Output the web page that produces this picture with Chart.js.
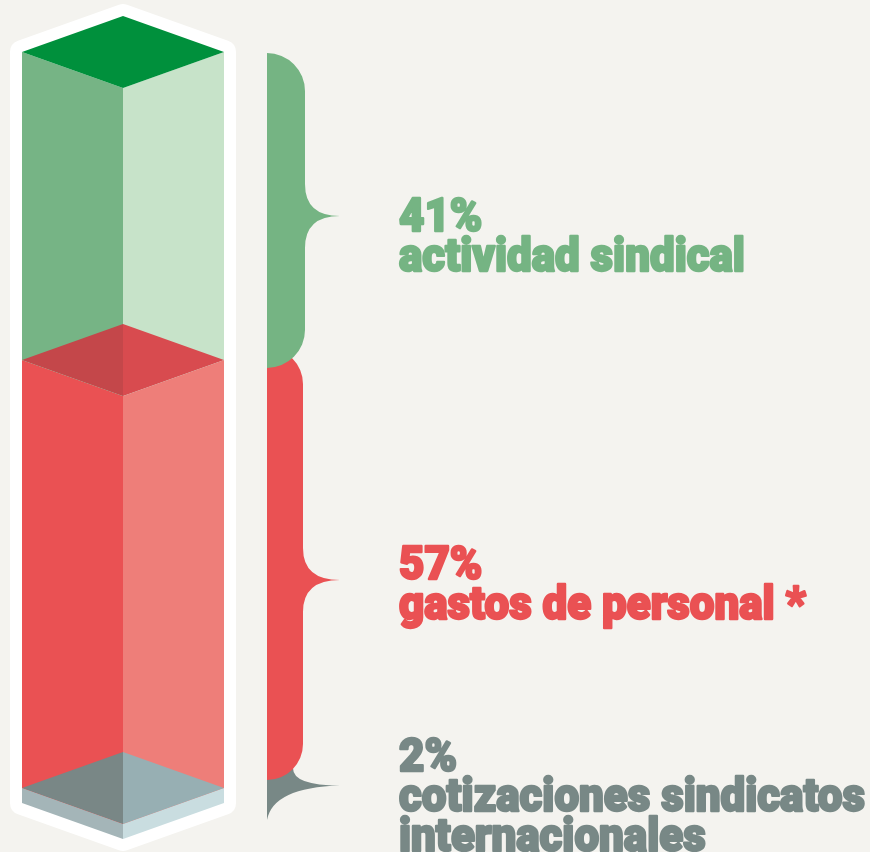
<!DOCTYPE html>
<html>
<head>
<meta charset="utf-8">
<script src="https://cdn.jsdelivr.net/npm/chart.js@4.4.1/dist/chart.umd.min.js"></script>
<style>
  html, body { margin: 0; padding: 0; background: #f4f3ef; }
  #wrap { width: 870px; height: 852px; position: relative; }
</style>
</head>
<body>
<div id="wrap"><canvas id="gastosChart"></canvas></div>
<script>
// data, stacked from the bottom up
const categories = ['Gastos'];
const shareValues = [2, 57, 41];
const shareLabels = ['2%', '57%', '41%'];
const shareNames = [
    ['cotizaciones sindicatos', 'internacionales'],
    ['gastos de personal *'],
    ['actividad sindical']
];

// colours per segment (same order as the data)
const segmentStyles = [
    { top: ['#798786', '#97afb3'], left: '#a4b5b8', right: '#c9dde0', ink: '#788886' },
    { top: ['#c4474a', '#d84b4f'], left: '#ea5153', right: '#ee7e79', ink: '#ea5153' },
    { top: ['#00903c', '#00903c'], left: '#76b485', right: '#c7e3c9', ink: '#75b483' }
];

// brace placement relative to its segment
const braceLayout = [
    { padTop: -40, padBottom: 17, tipShift: -10, width: 26, textShift: -14, flare: true },
    { padTop: -12, padBottom: -8, tipShift: 6, width: 36, textShift: -1 },
    { padTop: 1, padBottom: 8, tipShift: 10, width: 38, textShift: 15 }
];

const DEPTH = 36;           // isometric drop of the top faces
const LABEL_FONT = '900 47px Roboto, Inter, "Liberation Sans", sans-serif';
const LINE_STEP = 40;

function poly(ctx, pts, color) {
    ctx.beginPath();
    ctx.moveTo(pts[0][0], pts[0][1]);
    for (let i = 1; i < pts.length; i++) ctx.lineTo(pts[i][0], pts[i][1]);
    ctx.closePath();
    ctx.fillStyle = color;
    ctx.fill();
}

function drawBrace(ctx, x0, top, bottom, tipY, w, tipX, color, flare) {
    const r = Math.min(w, (tipY - top) / 2, (bottom - tipY) / 2);
    const c = Math.min(32, (tipY - top) - r, (bottom - tipY) - r);
    ctx.beginPath();
    ctx.moveTo(x0, top);
    ctx.arcTo(x0 + w, top, x0 + w, top + r, r);
    ctx.lineTo(x0 + w, tipY - c);
    ctx.quadraticCurveTo(x0 + w, tipY, tipX, tipY);
    if (flare) {
        // short brace: one sweep from the tip back to the bottom corner
        ctx.quadraticCurveTo(x0 + 6, tipY + 2, x0, bottom);
    } else {
        ctx.quadraticCurveTo(x0 + w, tipY, x0 + w, tipY + c);
        ctx.lineTo(x0 + w, bottom - r);
        ctx.arcTo(x0 + w, bottom, x0, bottom, r);
    }
    ctx.closePath();
    ctx.fillStyle = color;
    ctx.fill();
}

function getBars(chart) {
    return shareValues.map((v, i) => chart.getDatasetMeta(i).data[0].getProps(['x', 'y', 'base', 'width'], true));
}

const isoColumnPlugin = {
    id: 'isoColumn',
    beforeDatasetsDraw(chart) {
        const ctx = chart.ctx;
        const yScale = chart.scales.y;
        const bar = getBars(chart)[0];
        const L = bar.x - bar.width / 2, R = bar.x + bar.width / 2, C = bar.x;
        const top = yScale.getPixelForValue(100), base = yScale.getPixelForValue(0);
        // white casing round the column
        ctx.save();
        ctx.beginPath();
        ctx.moveTo(L, top);
        ctx.lineTo(C, top - DEPTH);
        ctx.lineTo(R, top);
        ctx.lineTo(R, base);
        ctx.lineTo(C, base + DEPTH);
        ctx.lineTo(L, base);
        ctx.closePath();
        ctx.fillStyle = '#ffffff';
        ctx.strokeStyle = '#ffffff';
        ctx.lineWidth = 24;
        ctx.lineJoin = 'round';
        ctx.fill();
        ctx.stroke();
        ctx.restore();
    },
    afterDatasetsDraw(chart) {
        const ctx = chart.ctx;
        const bars = getBars(chart);
        ctx.save();

        // front faces
        bars.forEach((b, i) => {
            const L = b.x - b.width / 2, R = b.x + b.width / 2, C = b.x;
            const st = segmentStyles[i];
            poly(ctx, [[L, b.y], [C, b.y + DEPTH], [C, b.base + DEPTH], [L, b.base]], st.left);
            poly(ctx, [[C, b.y + DEPTH], [R, b.y], [R, b.base], [C, b.base + DEPTH]], st.right);
        });
        // top faces, seen through the segment above
        bars.forEach((b, i) => {
            const L = b.x - b.width / 2, R = b.x + b.width / 2, C = b.x;
            const st = segmentStyles[i];
            poly(ctx, [[L, b.y], [C, b.y - DEPTH], [C, b.y + DEPTH]], st.top[0]);
            poly(ctx, [[C, b.y - DEPTH], [R, b.y], [C, b.y + DEPTH]], st.top[1]);
        });

        // braces (lowest first so the upper one overlaps)
        const braceX = bars[0].x + bars[0].width / 2 + 43;
        const tips = [];
        bars.forEach((b, i) => {
            const lay = braceLayout[i];
            const tipY = (b.y + b.base) / 2 + lay.tipShift;
            tips.push(tipY);
            drawBrace(ctx, braceX, b.y + lay.padTop, b.base + lay.padBottom, tipY,
                lay.width, braceX + 73, segmentStyles[i].ink, lay.flare);
        });

        // labels, condensed and a touch heavier
        ctx.font = LABEL_FONT;
        ctx.textBaseline = 'alphabetic';
        ctx.lineJoin = 'round';
        const squeeze = 466 / ctx.measureText('cotizaciones sindicatos').width;
        const textX = braceX + 132;
        bars.forEach((b, i) => {
            const lines = [shareLabels[i]].concat(shareNames[i]);
            const y0 = tips[i] + braceLayout[i].textShift;
            ctx.fillStyle = segmentStyles[i].ink;
            ctx.strokeStyle = segmentStyles[i].ink;
            lines.forEach((line, k) => {
                ctx.save();
                ctx.translate(textX, y0 + k * LINE_STEP);
                ctx.scale(squeeze, 1);
                ctx.lineWidth = 2.4;
                ctx.strokeText(line, 0, 0);
                ctx.fillText(line, 0, 0);
                ctx.restore();
            });
        });
        ctx.restore();
    }
};

const datasets = shareValues.map((v, i) => ({
    label: shareLabels[i],
    data: [v],
    backgroundColor: 'rgba(0,0,0,0)',
    borderWidth: 0,
    barPercentage: 1,
    categoryPercentage: 1
}));

new Chart(document.getElementById('gastosChart'), {
    type: 'bar',
    data: { labels: categories, datasets: datasets },
    options: {
        responsive: true,
        maintainAspectRatio: false,
        animation: false,
        layout: { padding: { top: 52, bottom: 49, left: 22, right: 646 } },
        scales: {
            x: { stacked: true, display: false },
            y: { stacked: true, display: false, min: 0, max: 100 }
        },
        plugins: {
            legend: { display: false },
            tooltip: { enabled: false }
        }
    },
    plugins: [isoColumnPlugin]
});
</script>
</body>
</html>
